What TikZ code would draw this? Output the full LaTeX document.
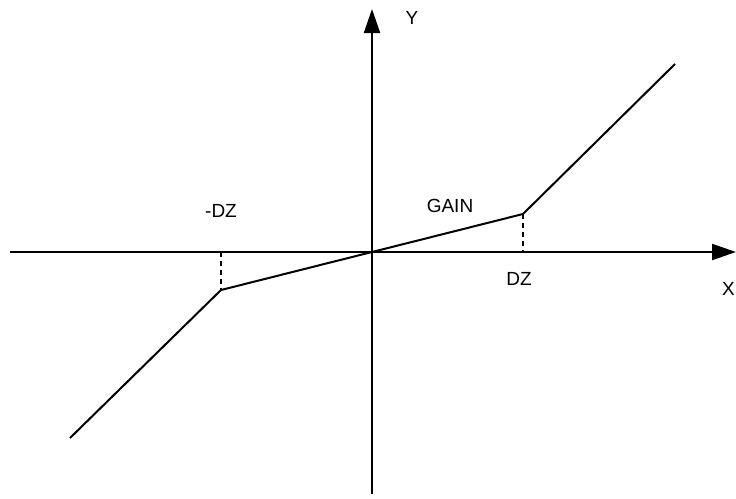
\documentclass[tikz,border=0pt]{standalone}
\usepackage{fontspec}
\setmainfont{Liberation Sans}
\usetikzlibrary{arrows.meta}
\begin{document}
\begin{tikzpicture}[x=1pt,y=-1pt,
  axis/.style={line width=2pt,-{Triangle[length=24pt,width=16pt]}},
  curve/.style={line width=2pt,line join=miter},
  guide/.style={line width=2pt,dash pattern=on 5pt off 4pt},
  lbl/.style={font=\fontsize{19}{22}\selectfont,inner sep=0pt}]
\useasboundingbox (0,0) rectangle (736,498);
\coordinate (xs) at (10,252);
\coordinate (xe) at (736,252);
\coordinate (ys) at (372,494);
\coordinate (ye) at (372,9);
\draw[axis] (xs) -- (xe);
\draw[axis] (ys) -- (ye);
\coordinate (p0) at (70,438);
\coordinate (p1) at (221,290);
\coordinate (o) at (372,252);
\coordinate (p2) at (523,214);
\coordinate (p3) at (675,64);
\coordinate (f1) at (221,252);
\coordinate (f2) at (523,252);
\draw[curve] (p0) -- (p1) -- (o) -- (p2) -- (p3);
\draw[guide] (f1) -- (p1);
\draw[guide] (p2) -- (f2);
\node[lbl] (ylab) at (412,18) {Y};
\node[lbl] (xlab) at (728.5,289) {X};
\node[lbl] (mdz) at (221,211) {-DZ};
\node[lbl] (gain) at (450,206) {GAIN};
\node[lbl] (dz) at (519,279) {DZ};
\end{tikzpicture}
\end{document}
